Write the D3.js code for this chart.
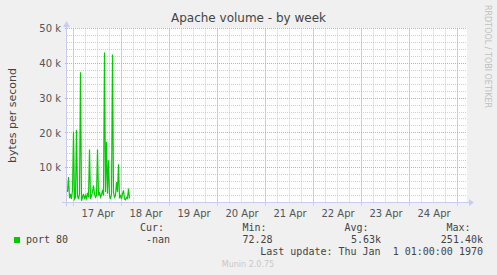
<!DOCTYPE html>
<html>
<head>
<meta charset="utf-8">
<script src="https://cdn.jsdelivr.net/npm/d3@7"></script>
<style>
  body { margin: 0; background: #f0f0f0; }
  svg { display: block; font-family: "DejaVu Sans", sans-serif; }
  .mono { font-family: "DejaVu Sans Mono", monospace; font-size: 10px; fill: #444; }
</style>
</head>
<body>
<svg width="497" height="275"></svg>
<script>
// samples every 30 minutes, starting 16 Apr 21:00
const seriesStart = "2024-04-16T21:00:00Z"
const stepMinutes = 30
const port80 = [
  3000, 7300, 1200, 2500, 1000, 3500, 20300, 1000, 1500, 20800,
  2000, 1000, 2500, 37400, 500, 1500, 2500, 1000, 2000, 1200,
  2800, 1500, 15200, 1000, 2000, 3000, 4900, 2500, 1500, 2000,
  15200, 2000, 3000, 1500, 2200, 3600, 2000, 43100, 3000, 17400,
  2500, 12100, 2000, 1000, 2500, 42500, 3000, 1500, 2000, 5900,
  3000, 11000, 1500, 2000, 1000, 2500, 3500, 1000, 800, 1500,
  1200, 4000, 1200
]
const yTicks = [10000, 20000, 30000, 40000, 50000]
const legendHeaders = ["Cur:", "Min:", "Avg:", "Max:"]
const legendValues = ["-nan", "72.28", "5.63k", "251.40k"]

const svg = d3.select("svg")

const plotLeft = 67, plotRight = 467, plotTop = 28.5, plotBottom = 202.5

const x = d3.scaleUtc()
  .domain([new Date("2024-04-16T20:45:00Z"), new Date("2024-04-25T04:45:00Z")])
  .range([plotLeft, plotRight])

const y = d3.scaleLinear()
  .domain([0, 50000])
  .range([plotBottom, plotTop])

const t0 = new Date(seriesStart).getTime()
const points = port80.map((v, i) => ({ t: new Date(t0 + i * stepMinutes * 60000), v: v }))

// plot background
svg.append("rect")
  .attr("x", plotLeft).attr("y", plotTop - 0.5)
  .attr("width", plotRight - plotLeft).attr("height", plotBottom - plotTop + 0.5)
  .attr("fill", "#fff")

// grid
const minorX = x.ticks(d3.utcHour.every(6))
const majorX = x.ticks(d3.utcDay.every(1))
const minorY = d3.range(2000, 50001, 2000)
const px = v => Math.round(v - 0.5) + 0.5

svg.selectAll("line.minor-x")
  .data(minorX)
  .enter()
  .append("line")
  .attr("x1", d => px(x(d))).attr("x2", d => px(x(d)))
  .attr("y1", plotTop).attr("y2", plotBottom)
  .attr("stroke", "#cfcfcf")
  .attr("stroke-dasharray", "1,1")

svg.selectAll("line.minor-y")
  .data(minorY)
  .enter()
  .append("line")
  .attr("x1", plotLeft).attr("x2", plotRight)
  .attr("y1", d => px(y(d))).attr("y2", d => px(y(d)))
  .attr("stroke", "#cfcfcf")
  .attr("stroke-dasharray", "1,1")

svg.selectAll("line.major-x")
  .data(majorX)
  .enter()
  .append("line")
  .attr("x1", d => px(x(d))).attr("x2", d => px(x(d)))
  .attr("y1", plotTop).attr("y2", plotBottom + 3)
  .attr("stroke", "#e4a4a4")
  .attr("stroke-dasharray", "1,1")

svg.selectAll("line.major-y")
  .data(yTicks)
  .enter()
  .append("line")
  .attr("x1", plotLeft - 2).attr("x2", plotRight)
  .attr("y1", d => px(y(d))).attr("y2", d => px(y(d)))
  .attr("stroke", "#e4a4a4")
  .attr("stroke-dasharray", "1,1")

// axes
const axisColor = "#c8ccf4"
svg.append("line")
  .attr("x1", 62).attr("x2", 470)
  .attr("y1", plotBottom).attr("y2", plotBottom)
  .attr("stroke", axisColor)
svg.append("line")
  .attr("x1", plotLeft - 0.5).attr("x2", plotLeft - 0.5)
  .attr("y1", plotBottom + 4).attr("y2", 24)
  .attr("stroke", axisColor)
svg.append("path")
  .attr("d", `M469,${plotBottom - 3.5} L474,${plotBottom} L469,${plotBottom + 3.5} Z`)
  .attr("fill", axisColor)
svg.append("path")
  .attr("d", `M${plotLeft - 4},27 L${plotLeft - 0.5},21 L${plotLeft + 3},27 Z`)
  .attr("fill", axisColor)

// y labels
svg.append("g")
  .attr("transform", `translate(${plotLeft - 6},0)`)
  .call(d3.axisLeft(y).tickValues(yTicks).tickSize(0).tickPadding(0)
    .tickFormat(d => `${d / 1000} k`))
  .call(g => g.select(".domain").remove())
  .selectAll("text")
  .attr("font-family", "DejaVu Sans")
  .attr("font-size", 10)
  .attr("fill", "#555")

// x labels at noon
const noons = majorX.map(d => d3.utcHour.offset(d, 12)).filter(d => x(d) < plotRight)
svg.append("g")
  .attr("transform", `translate(0,${plotBottom + 4})`)
  .call(d3.axisBottom(x).tickValues(noons).tickSize(0).tickPadding(3)
    .tickFormat(d3.utcFormat("%d %b")))
  .call(g => g.select(".domain").remove())
  .selectAll("text")
  .attr("font-family", "DejaVu Sans")
  .attr("font-size", 10)
  .attr("fill", "#555")

// series
const line = d3.line()
  .x(d => x(d.t))
  .y(d => y(d.v))

svg.append("path")
  .datum(points)
  .attr("d", line)
  .attr("fill", "none")
  .attr("stroke", "#00cc00")
  .attr("stroke-width", 1.2)

// titles
svg.append("text")
  .attr("x", 248.5).attr("y", 22)
  .attr("text-anchor", "middle")
  .attr("font-size", 12)
  .attr("fill", "#444")
  .text("Apache volume - by week")

svg.append("text")
  .attr("transform", `translate(16,${(plotTop + plotBottom) / 2}) rotate(-90)`)
  .attr("text-anchor", "middle")
  .attr("font-size", 11)
  .attr("fill", "#444")
  .text("bytes per second")

svg.append("text")
  .attr("transform", "translate(485,5) rotate(90)")
  .attr("font-size", 8)
  .attr("fill", "#c0c0c0")
  .text("RRDTOOL / TOBI OETIKER")

// legend
svg.append("rect")
  .attr("x", 14).attr("y", 237)
  .attr("width", 6).attr("height", 6)
  .attr("fill", "#00cc00")

svg.append("text")
  .attr("class", "mono")
  .attr("x", 26).attr("y", 243)
  .text("port 80")

const headerX = [140, 242.5, 344.5, 446.5]
const valueRight = [170, 272.5, 381, 483]

svg.selectAll("text.head")
  .data(legendHeaders)
  .enter()
  .append("text")
  .attr("class", "mono head")
  .attr("x", (d, i) => headerX[i])
  .attr("y", 231)
  .text(d => d)

svg.selectAll("text.val")
  .data(legendValues)
  .enter()
  .append("text")
  .attr("class", "mono val")
  .attr("x", (d, i) => valueRight[i])
  .attr("y", 243)
  .attr("text-anchor", "end")
  .text(d => d)

svg.append("text")
  .attr("class", "mono")
  .attr("x", 483).attr("y", 255)
  .attr("text-anchor", "end")
  .style("white-space", "pre")
  .text("Last update: Thu Jan  1 01:00:00 1970")

svg.append("text")
  .attr("x", 248).attr("y", 267)
  .attr("text-anchor", "middle")
  .attr("font-size", 8)
  .attr("fill", "#c8c8c8")
  .text("Munin 2.0.75")
</script>
</body>
</html>
